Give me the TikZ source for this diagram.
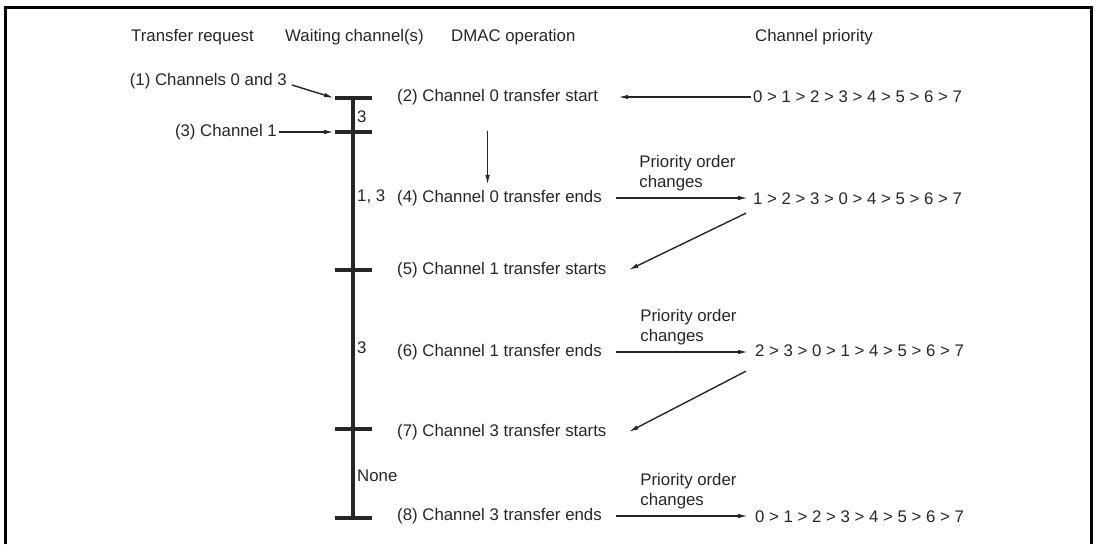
\documentclass[tikz,border=0pt]{standalone}
\usepackage{fontspec}
\setmainfont{Liberation Sans}
\usetikzlibrary{arrows.meta, positioning}

\tikzset{
  txt/.style={font=\fontsize{16.8}{20}\selectfont, text=black!85, inner sep=2pt},
  arr/.style={-{Latex[length=10pt,width=4.5pt]}, line width=1.4pt, draw=black!85},
  bar/.style={line width=3.2pt, draw=black!85},
}

\begin{document}
\begin{tikzpicture}[x=1pt, y=-1pt]
    \useasboundingbox (0,0) rectangle (1100,544);
    % frame, its lower edge is cut off
    \draw[line width=3pt] (5,544) -- (5,7) -- (1091,7) -- (1091,544);

    % column headings
    \node[txt, anchor=west] (hreq) at (129,37) {Transfer request};
    \node[txt, anchor=west] (hwait) at (283,37) {Waiting channel(s)};
    \node[txt, anchor=west] (hdmac) at (449,37) {DMAC operation};
    \node[txt, anchor=west] (hprio) at (753,37) {Channel priority};

    % time axis with its ticks
    \coordinate (t1) at (353,98);
    \coordinate (t3) at (353,132);
    \coordinate (t5) at (353,270);
    \coordinate (t7) at (353,429);
    \coordinate (t8) at (353,518);
    \draw[bar] (t1) -- (t8);
    \foreach \t in {t1,t3,t5,t7,t8}
        \draw[bar] ([xshift=-18pt]\t) -- ([xshift=19pt]\t);

    % waiting channels
    \node[txt, anchor=west, inner sep=0pt] (w1) at (357,117) {3};
    \node[txt, anchor=west, inner sep=0pt] (w2) at (357,197) {1, 3};
    \node[txt, anchor=west, inner sep=0pt] (w3) at (357,348) {3};
    \node[txt, anchor=west, inner sep=0pt] (w4) at (357,476) {None};

    % transfer requests
    \node[txt, anchor=east] (req1) at (289,81) {(1) Channels 0 and 3};
    \node[txt, anchor=east] (req3) at (279,132) {(3) Channel 1};
    \draw[arr] ([xshift=3pt, yshift=-4pt]req1.east) -- ([xshift=-19pt]t1);
    \draw[arr] (req3.east) -- ([xshift=-19pt]t3);

    % DMAC operation
    \node[txt, anchor=west] (op2) at (395,97) {(2) Channel 0 transfer start};
    \node[txt, anchor=west] (op4) at (395,198) {(4) Channel 0 transfer ends};
    \node[txt, anchor=west] (op5) at (395,270) {(5) Channel 1 transfer starts};
    \node[txt, anchor=west] (op6) at (395,352) {(6) Channel 1 transfer ends};
    \node[txt, anchor=west] (op7) at (395,432) {(7) Channel 3 transfer starts};
    \node[txt, anchor=west] (op8) at (395,516) {(8) Channel 3 transfer ends};

    % channel priority
    \node[txt, anchor=west] (pri0) at (751,97) {0 > 1 > 2 > 3 > 4 > 5 > 6 > 7};
    \node[txt, anchor=west] (pri1) at (751,199) {1 > 2 > 3 > 0 > 4 > 5 > 6 > 7};
    \node[txt, anchor=west] (pri2) at (753,351) {2 > 3 > 0 > 1 > 4 > 5 > 6 > 7};
    \node[txt, anchor=west] (pri3) at (753,517) {0 > 1 > 2 > 3 > 4 > 5 > 6 > 7};

    % arrows between operations and priorities
    \draw[arr, shorten >=18pt] (pri0.west) -- (pri0.west -| op2.east);
    \draw[arr, shorten <=24pt, shorten >=3pt] ([xshift=-10pt]op2.south) -- ([xshift=-10pt]op2.south |- op4.north);
    \draw[arr, shorten <=12pt, shorten >=3pt] (op4.east) -- (op4.east -| pri1.west)
        node[txt, midway, above, align=left, xshift=10pt, yshift=4pt] {Priority order\\changes};
    \draw[arr] ([xshift=-5pt, yshift=-6pt]pri1.south west) -- ([xshift=20pt]op5.east);
    \draw[arr, shorten <=12pt, shorten >=5pt] (op6.east) -- (op6.east -| pri2.west)
        node[txt, midway, above, align=left, xshift=10pt, yshift=4pt] {Priority order\\changes};
    \draw[arr] ([xshift=-7pt, yshift=-12pt]pri2.south west) -- ([xshift=20pt]op7.east);
    \draw[arr, shorten <=12pt, shorten >=5pt] (op8.east) -- (op8.east -| pri3.west)
        node[txt, midway, above, align=left, xshift=10pt, yshift=4pt] {Priority order\\changes};
\end{tikzpicture}
\end{document}
